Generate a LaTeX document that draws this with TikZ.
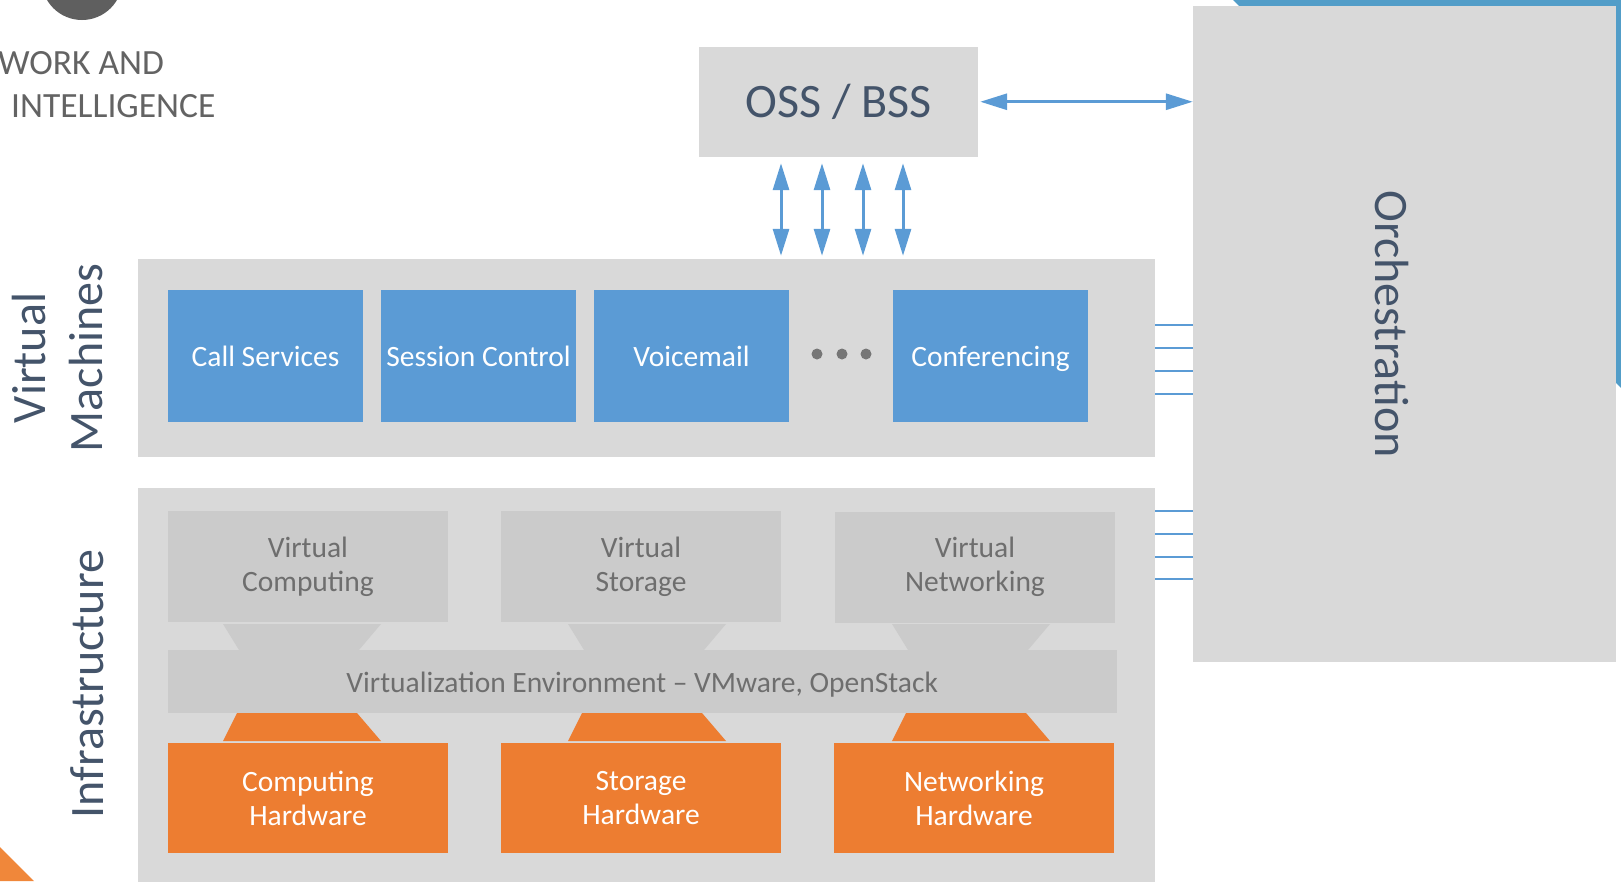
\documentclass[tikz,border=0pt]{standalone}
\usepackage{fontspec}
\setmainfont{Carlito}
\usetikzlibrary{arrows.meta}
\definecolor{panelgray}{HTML}{D9D9D9}
\definecolor{innergray}{HTML}{CBCBCB}
\definecolor{vmblue}{HTML}{5B9BD5}
\definecolor{hworange}{HTML}{ED7D31}
\definecolor{slate}{HTML}{44546A}
\definecolor{textgray}{HTML}{6E6E6E}
\definecolor{dotgray}{HTML}{767676}
\definecolor{circgray}{HTML}{5F5F5F}
\definecolor{cornerblue}{HTML}{529DC8}
\definecolor{cornerorange}{HTML}{F0873A}
\tikzset{
  panel/.style={fill=panelgray, draw=none, inner sep=0pt},
  vmbox/.style={fill=vmblue, draw=none, inner sep=0pt, minimum width=195pt, minimum height=132pt,
    text=white, text height=21pt, text depth=0pt, font=\fontsize{29.5}{35}\selectfont},
  virtbox/.style={fill=innergray, draw=none, inner sep=0pt, minimum width=280pt, minimum height=111pt,
    text=textgray, align=center, font=\fontsize{29.5}{34}\selectfont},
  hwbox/.style={fill=hworange, draw=none, inner sep=0pt, minimum width=280pt, minimum height=110pt,
    text=white, align=center, font=\fontsize{29.5}{34}\selectfont},
  sidelabel/.style={text=slate, inner sep=0pt, align=center, font=\fontsize{48}{57}\selectfont},
  biarrow/.style={draw=vmblue, line width=3pt, {Triangle[length=27pt,width=16pt]}-{Triangle[length=27pt,width=16pt]}},
  tick/.style={draw=vmblue, line width=2.8pt},
  funnel/.style={fill=innergray, draw=none},
  hwfunnel/.style={fill=hworange, draw=none},
  headtext/.style={text=textgray!90!black, inner sep=0pt, anchor=base west, font=\fontsize{35.5}{42}\selectfont},
}
\begin{document}
\begin{tikzpicture}[x=1pt,y=-1pt]
\useasboundingbox (0,0) rectangle (1621,881);
\clip (0,0) rectangle (1621,881);

% decorative corners
\fill[circgray] (82,-20.6) circle (40.6);
\fill[cornerblue] (1233,0) -- (1621,0) -- (1621,388) -- cycle;
\fill[cornerorange] (0,847) -- (34,881) -- (0,881) -- cycle;

% header text
\node[headtext] (head1) at (-2,74) {WORK AND};
\node[headtext] (head2) at (11,117) {INTELLIGENCE};

% main boxes
\node[panel, minimum width=279pt, minimum height=110.5pt, text=slate, font=\fontsize{48}{56}\selectfont] (oss) at (838.5,101.75) {OSS / BSS};
\node[panel, minimum width=423pt, minimum height=656pt] (orch) at (1404.5,334) {};
\node[sidelabel, rotate=-90] (orchlabel) at (1392,324) {Orchestration};

\node[panel, minimum width=1017pt, minimum height=198pt] (vmpanel) at (646.5,358) {};
\node[panel, minimum width=1017pt, minimum height=412pt] (infrapanel) at (646.5,694) {};

\node[sidelabel, rotate=90] (vmlabel) at (58,358) {Virtual\\Machines};
\node[sidelabel, rotate=90] (infralabel) at (87,684) {Infrastructure};

% virtual machines
\node[vmbox] (call) at (265.5,356) {Call Services};
\node[vmbox] (session) at (478.5,356) {Session Control};
\node[vmbox] (voice) at (691.5,356) {Voicemail};
\node[vmbox] (conf) at (990.5,356) {Conferencing};
\foreach \dx in {817,842,866} \fill[dotgray] (\dx,354) circle (5.5);

% infrastructure
\node[virtbox] (vcomp) at (308,566.5) {Virtual\\Computing};
\node[virtbox] (vstor) at (641,566.5) {Virtual\\Storage};
\node[virtbox] (vnet) at (975,567) {Virtual\\Networking};
\node[fill=innergray, draw=none, inner sep=0pt, minimum width=948.5pt, minimum height=63pt,
  text=textgray, text height=21pt, text depth=0pt, font=\fontsize{29.5}{35}\selectfont] (venv) at (642.25,681.5)
  {Virtualization Environment -- VMware, OpenStack};
\node[hwbox] (hcomp) at (308,798) {Computing\\Hardware};
\node[hwbox] (hstor) at (641,798) {Storage\\Hardware};
\node[hwbox] (hnet) at (974,798) {Networking\\Hardware};

\foreach \ox in {0,345,669} {
  \fill[funnel] (223+\ox,624) -- (381+\ox,624) -- (359+\ox,650) -- (239+\ox,650) -- cycle;
  \fill[hwfunnel] (237+\ox,713) -- (357+\ox,713) -- (381+\ox,741) -- (223+\ox,741) -- cycle;
}

% connectors
\draw[biarrow, shorten <=2pt] (oss.east) -- (orch.west |- oss.east);
\foreach \dx in {-57.5,-16.5,24.5,64.5}
  \draw[biarrow, shorten <=6pt, shorten >=3pt] ([xshift=\dx pt]oss.south) -- ([xshift=\dx pt]oss.south |- vmpanel.north);
\foreach \yy in {325,348,371,394}
  \draw[tick] (vmpanel.east |- 0,\yy) -- (orch.west |- 0,\yy);
\foreach \yy in {511,534,557,579}
  \draw[tick] (infrapanel.east |- 0,\yy) -- (orch.west |- 0,\yy);
\end{tikzpicture}
\end{document}
